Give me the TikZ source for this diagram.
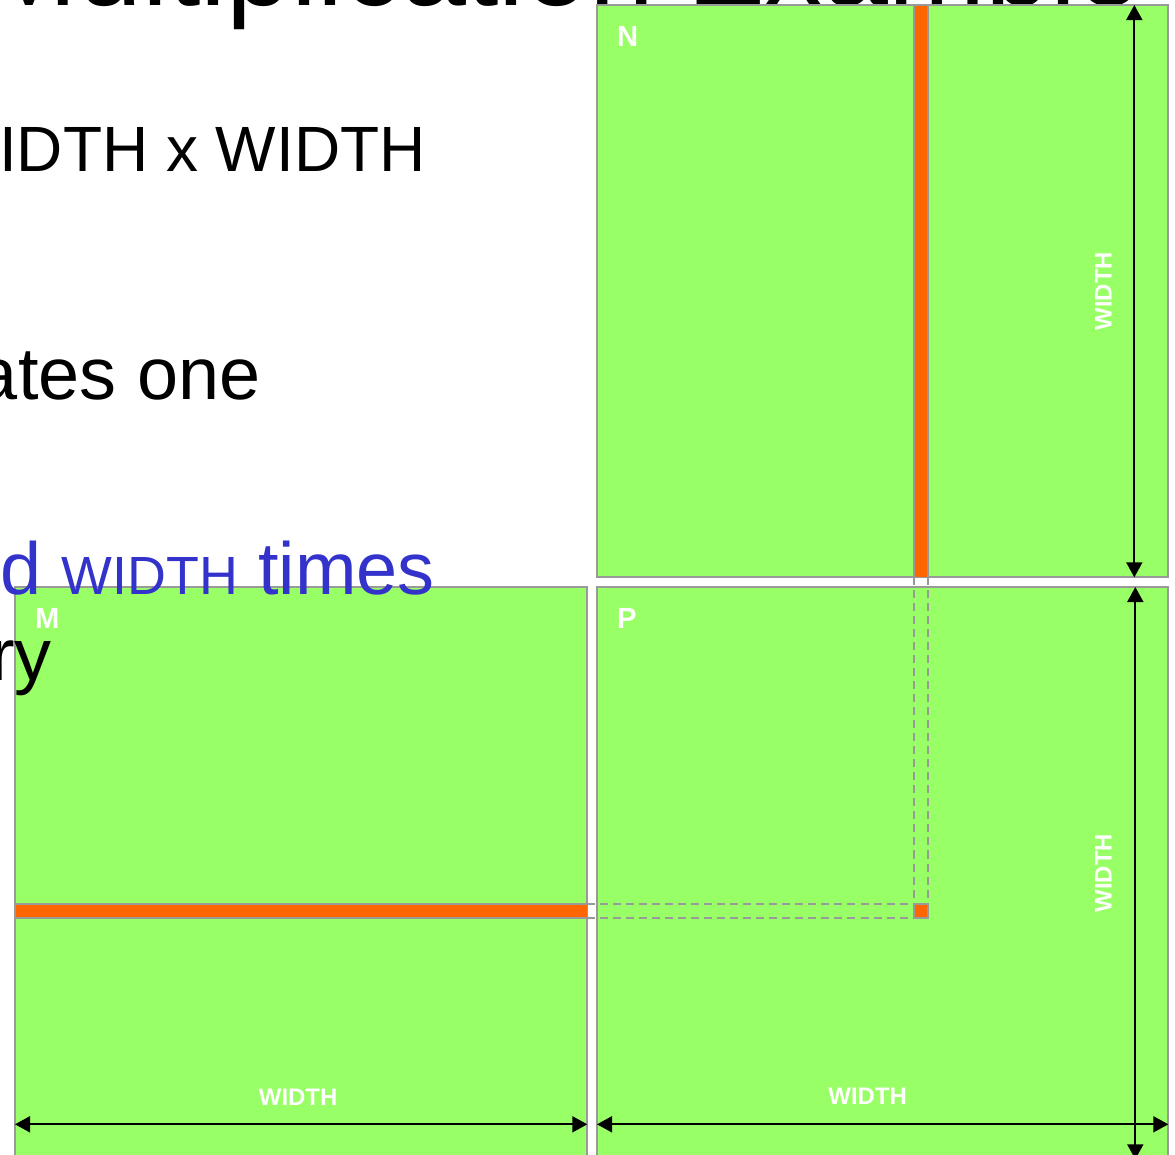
\documentclass[tikz,border=0pt]{standalone}
\usepackage{fontspec}
\setmainfont{Liberation Sans}
\usetikzlibrary{positioning,arrows.meta}
\usepackage{xcolor}
\definecolor{matgreen}{HTML}{99FF66}
\definecolor{matgray}{HTML}{999999}
\definecolor{roworange}{HTML}{FF6600}
\definecolor{noteblue}{HTML}{3333CC}

\begin{document}
\begin{tikzpicture}[x=0.01cm, y=-0.01cm,
    every node/.style={inner sep=0, outer sep=0},
    matbox/.style={draw=matgray, fill=matgreen, line width=0.02cm, minimum width=5.72cm, minimum height=5.72cm, anchor=north west},
    strip/.style={draw=matgray, fill=roworange, line width=0.015cm, anchor=north west},
    guide/.style={draw=matgray, line width=0.015cm, dash pattern=on 0.08cm off 0.05cm},
    dimarrow/.style={{Triangle[length=0.15cm,width=0.16cm]}-{Triangle[length=0.15cm,width=0.16cm]}, line width=0.017cm},
    dimlabel/.style={text=white, font=\fontsize{6.8}{7}\selectfont\bfseries},
    matlabel/.style={text=white, font=\fontsize{8.3}{9}\selectfont\bfseries, anchor=base west},
    slide/.style={anchor=base west, font=\fontsize{21}{25}\selectfont}]
    \useasboundingbox (0,0) rectangle (1175,1155);
    \clip (0,0) rectangle (1175,1155);

    % slide title, mostly cut off at the top
    \node[anchor=base west, font=\fontsize{33.2}{38}\selectfont] (title) at (-20,6) {Multiplication Example};

    % the three matrices
    \node[matbox, minimum width=5.71cm] (Nmat) at (597,5) {};
    \node[matbox] (Mmat) at (15,587) {};
    \node[matbox, minimum width=5.71cm] (Pmat) at (597,587) {};

    % row of M, column of N, element of P
    \node[strip, minimum width=0.14cm, minimum height=5.72cm] (ncol) at (914,5) {};
    \node[strip, minimum width=5.72cm, minimum height=0.14cm] (mrow) at (15,904) {};
    \node[strip, minimum size=0.14cm] (pel) at (914,904) {};

    \draw[guide] (ncol.south west) -- (pel.north west);
    \draw[guide] (ncol.south east) -- (pel.north east);
    \draw[guide] (mrow.north east) -- (pel.north west);
    \draw[guide] (mrow.south east) -- (pel.south west);

    \node[matlabel] (nlab) at (617,47) {N};
    \node[matlabel] (mlab) at (35,629) {M};
    \node[matlabel] (plab) at (617,629) {P};

    % dimension arrows
    \draw[dimarrow] ([xshift=-0.34cm]Nmat.north east) -- ([xshift=-0.34cm]Nmat.south east);
    \draw[dimarrow] ([xshift=-0.33cm]Pmat.north east) -- ([xshift=-0.33cm]Pmat.south east);
    \draw[dimarrow] ([yshift=0.35cm]Mmat.south west) -- ([yshift=0.35cm]Mmat.south east);
    \draw[dimarrow] ([yshift=0.35cm]Pmat.south west) -- ([yshift=0.35cm]Pmat.south east);

    \node[dimlabel, rotate=90] (nwidth) at ([xshift=-0.65cm]Nmat.east) {WIDTH};
    \node[dimlabel, rotate=90] (pwidth) at ([xshift=-0.65cm]Pmat.east) {WIDTH};
    \node[dimlabel] (mwidth) at ([yshift=0.62cm,xshift=-0.03cm]Mmat.south) {WIDTH};
    \node[dimlabel] (pwidthb) at ([yshift=0.63cm,xshift=-0.15cm]Pmat.south) {WIDTH};

    % slide text, cut off at the left
    \node[slide, font=\fontsize{18.2}{22}\selectfont] (dims) at (-1,172) {IDTH x WIDTH};
    \node[slide] (calc) at (-23,400) {ates one};
    \node[slide, text=noteblue] (loads) at (0,595) {d {\fontsize{15.3}{16}\selectfont WIDTH} times};
    \node[slide] (mem) at (-10,681) {ry};
\end{tikzpicture}
\end{document}
